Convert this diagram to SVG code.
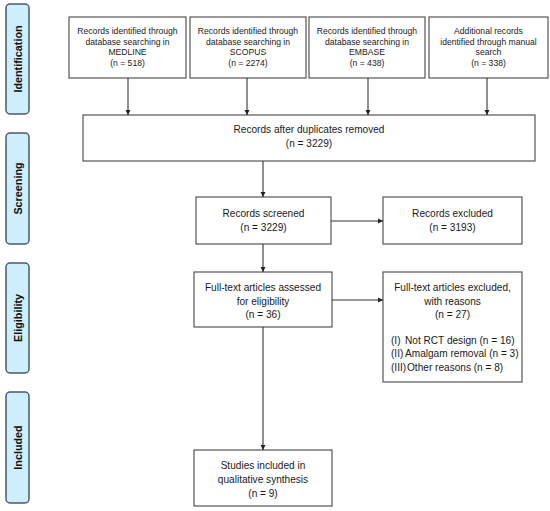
<svg xmlns="http://www.w3.org/2000/svg" width="550" height="511" viewBox="0 0 550 511">
<style>
.bg{fill:#ffffff}
.side rect{fill:#cdeefc;stroke:#4d5966;stroke-width:1.5}
.side text{font-family:"Liberation Sans",Arial,sans-serif;font-weight:bold;font-size:10.8px;fill:#111;text-anchor:middle}
.node rect{fill:#ffffff;stroke:#555;stroke-width:1.2}
.node text{font-family:"Liberation Sans",Arial,sans-serif;fill:#1a1a1a;text-anchor:middle}
.top text{font-size:8.6px}
.mid text{font-size:10.1px}
.node text.l{text-anchor:start}
.conn line{stroke:#333;stroke-width:1.1;fill:none}
</style>
<defs>
<marker id="ah" viewBox="0 0 10 10" refX="10" refY="5" markerWidth="5.5" markerHeight="5.5" markerUnits="userSpaceOnUse" orient="auto">
<path d="M0,0 L10,5 L0,10 z" fill="#222"/>
</marker>
</defs>
<rect class="bg" x="0" y="0" width="550" height="511"/>

<g id="phase-identification" class="side"><rect x="6" y="4" width="23" height="110" rx="4"/><text transform="translate(21.5,59) rotate(-90)">Identification</text></g>
<g id="phase-screening" class="side"><rect x="6" y="133" width="23" height="111" rx="4"/><text transform="translate(21.5,188.5) rotate(-90)">Screening</text></g>
<g id="phase-eligibility" class="side"><rect x="6" y="263" width="23" height="110" rx="4"/><text transform="translate(21.5,318) rotate(-90)">Eligibility</text></g>
<g id="phase-included" class="side"><rect x="6" y="392" width="23" height="111" rx="4"/><text transform="translate(21.5,447.5) rotate(-90)">Included</text></g>

<g id="medline" class="node top"><rect x="69" y="17" width="117" height="61"/>
<text x="127.5" y="34">Records identified through</text><text x="127.5" y="44.5">database searching in</text><text x="127.5" y="55">MEDLINE</text><text x="127.5" y="65.5">(n = 518)</text></g>
<g id="scopus" class="node top"><rect x="190" y="17" width="116" height="61"/>
<text x="248" y="34">Records identified through</text><text x="248" y="44.5">database searching in</text><text x="248" y="55">SCOPUS</text><text x="248" y="65.5">(n = 2274)</text></g>
<g id="embase" class="node top"><rect x="309" y="17" width="116" height="61"/>
<text x="367" y="34">Records identified through</text><text x="367" y="44.5">database searching in</text><text x="367" y="55">EMBASE</text><text x="367" y="65.5">(n = 438)</text></g>
<g id="manual" class="node top"><rect x="429" y="17" width="119" height="61"/>
<text x="488.5" y="34">Additional records</text><text x="488.5" y="44.5">identified through manual</text><text x="488.5" y="55">search</text><text x="488.5" y="65.5">(n = 338)</text></g>

<g id="dedup" class="node mid"><rect x="83" y="115" width="452" height="46"/>
<text x="309" y="133">Records after duplicates removed</text><text x="309" y="147">(n = 3229)</text></g>
<g id="screened" class="node mid"><rect x="196" y="197" width="135" height="47"/>
<text x="263.5" y="217">Records screened</text><text x="263.5" y="231">(n = 3229)</text></g>
<g id="excluded" class="node mid"><rect x="383" y="197" width="139" height="47"/>
<text x="452.5" y="217">Records excluded</text><text x="452.5" y="231">(n = 3193)</text></g>
<g id="fulltext" class="node mid"><rect x="194" y="272" width="138" height="55"/>
<text x="263" y="290.5">Full-text articles assessed</text><text x="263" y="304.5">for eligibility</text><text x="263" y="318">(n = 36)</text></g>
<g id="fulltext-excluded" class="node mid"><rect x="383" y="272" width="139" height="110"/>
<text x="452.5" y="290.5">Full-text articles excluded,</text><text x="452.5" y="304.5">with reasons</text><text x="452.5" y="318">(n = 27)</text>
<text class="l" x="391" y="343.5">(I)</text><text class="l" x="405" y="343.5">Not RCT design (n = 16)</text>
<text class="l" x="391" y="357">(II)</text><text class="l" x="405" y="357">Amalgam removal (n = 3)</text>
<text class="l" x="391" y="370.5">(III)</text><text class="l" x="407" y="370.5">Other reasons (n = 8)</text></g>
<g id="included" class="node mid"><rect x="194" y="450" width="138" height="56"/>
<text x="263" y="468.5">Studies included in</text><text x="263" y="482.5">qualitative synthesis</text><text x="263" y="496.5">(n = 9)</text></g>

<g id="connectors" class="conn">
<line x1="128" y1="78" x2="128" y2="115" marker-end="url(#ah)"/>
<line x1="247" y1="78" x2="247" y2="115" marker-end="url(#ah)"/>
<line x1="368" y1="78" x2="368" y2="115" marker-end="url(#ah)"/>
<line x1="487" y1="78" x2="487" y2="115" marker-end="url(#ah)"/>
<line x1="263" y1="161" x2="263" y2="197" marker-end="url(#ah)"/>
<line x1="263" y1="244" x2="263" y2="272" marker-end="url(#ah)"/>
<line x1="263" y1="327" x2="263" y2="450" marker-end="url(#ah)"/>
<line x1="331" y1="221" x2="383" y2="221" marker-end="url(#ah)"/>
<line x1="332" y1="300" x2="383" y2="300" marker-end="url(#ah)"/>
</g>
</svg>
